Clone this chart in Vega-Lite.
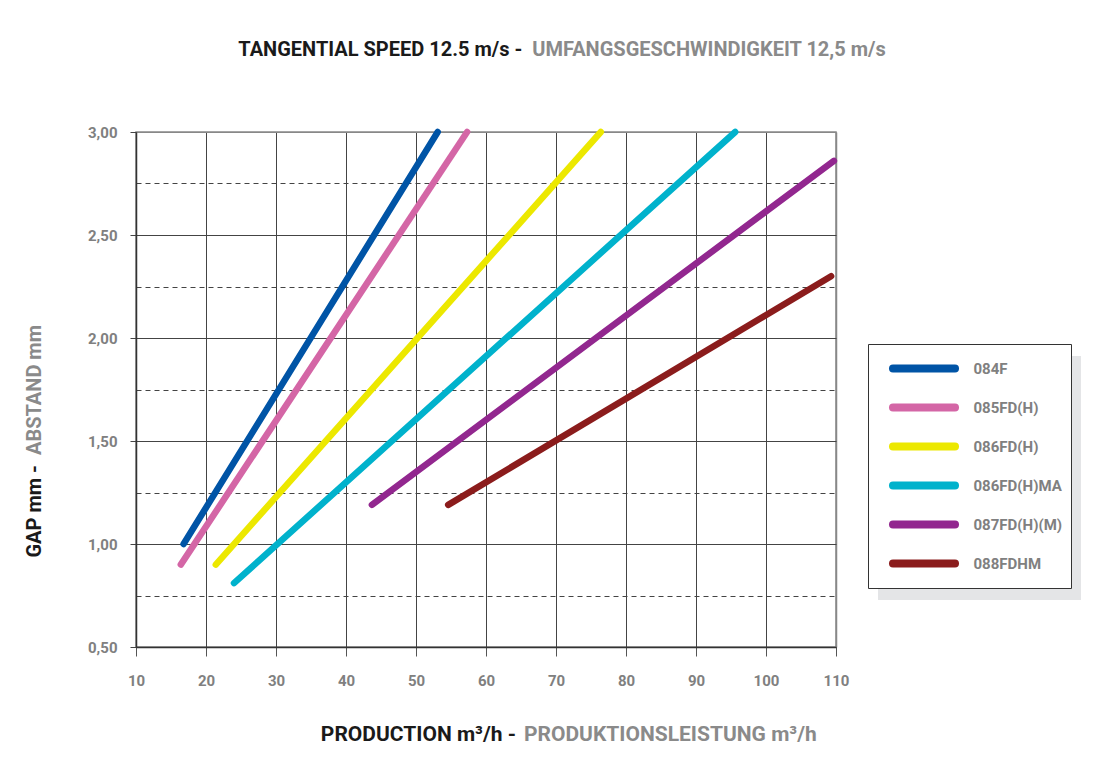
{
  "$schema": "https://vega.github.io/schema/vega-lite/v6.json",
  "width": 700,
  "height": 515,
  "autosize": {"type": "none"},
  "padding": {"left": 136, "top": 132, "right": 282, "bottom": 117},
  "background": "white",
  "config": {
    "font": "Roboto",
    "view": {"stroke": "#888888", "strokeWidth": 1.5}
  },
  "layer": [
    {
      "data": {"values": [{}]},
      "mark": {"type": "rect", "color": "#e4e5e7"},
      "encoding": {"x": {"datum": 116}, "x2": {"datum": 145}, "y": {"datum": 1.913}, "y2": {"datum": 0.728}}
    },
    {
      "data": {
        "values": [
          {"model": "084F", "production": 16.8, "gap": 1.0},
          {"model": "084F", "production": 53.1, "gap": 3.0},
          {"model": "085FD(H)", "production": 16.4, "gap": 0.9},
          {"model": "085FD(H)", "production": 57.3, "gap": 3.0},
          {"model": "086FD(H)", "production": 21.4, "gap": 0.9},
          {"model": "086FD(H)", "production": 76.4, "gap": 3.0},
          {"model": "086FD(H)MA", "production": 24.0, "gap": 0.81},
          {"model": "086FD(H)MA", "production": 95.6, "gap": 3.0},
          {"model": "087FD(H)(M)", "production": 43.7, "gap": 1.19},
          {"model": "087FD(H)(M)", "production": 109.7, "gap": 2.86},
          {"model": "088FDHM", "production": 54.6, "gap": 1.19},
          {"model": "088FDHM", "production": 109.3, "gap": 2.3}
        ]
      },
      "mark": {"type": "line", "strokeWidth": 6.5, "strokeCap": "round"},
      "encoding": {
        "x": {
          "field": "production", "type": "quantitative",
          "scale": {"domain": [10, 110], "nice": false, "zero": false},
          "axis": {
            "title": null,
            "values": [10, 20, 30, 40, 50, 60, 70, 80, 90, 100, 110],
            "grid": true,
            "gridColor": {"condition": {"test": "datum.value == 110", "value": "#888888"}, "value": "#444444"},
            "gridWidth": {"condition": {"test": "datum.value == 110", "value": 1.5}, "value": 1},
            "domainColor": "#333333",
            "domainWidth": 1.5,
            "tickColor": "#555555",
            "tickSize": 9,
            "labelFontSize": 15,
            "labelFontWeight": "bold",
            "labelColor": "#808080",
            "labelPadding": 17,
            "labelFlush": false
          }
        },
        "y": {
          "field": "gap", "type": "quantitative",
          "scale": {"domain": [0.5, 3.0], "nice": false, "zero": false},
          "axis": {
            "title": null,
            "values": [0.5, 0.75, 1.0, 1.25, 1.5, 1.75, 2.0, 2.25, 2.5, 2.75, 3.0],
            "grid": true,
            "gridColor": {"condition": {"test": "datum.value == 3", "value": "#888888"}, "value": "#444444"},
            "gridDash": {"condition": {"test": "datum.value % 0.5 != 0", "value": [5, 4]}, "value": []},
            "gridWidth": 1,
            "domainColor": "#333333",
            "domainWidth": 1.5,
            "tickColor": "#444444",
            "tickSize": 6,
            "tickOpacity": {"condition": {"test": "datum.value % 0.5 != 0", "value": 0}, "value": 1},
            "labelExpr": "datum.value % 0.5 == 0 ? replace(format(datum.value, '.2f'), '.', ',') : ''",
            "labelFontSize": 15,
            "labelFontWeight": "bold",
            "labelColor": "#808080",
            "labelPadding": 13,
            "labelFlush": false
          }
        },
        "color": {
          "field": "model", "type": "nominal",
          "scale": {
            "domain": ["084F", "085FD(H)", "086FD(H)", "086FD(H)MA", "087FD(H)(M)", "088FDHM"],
            "range": ["#0054a6", "#d466a6", "#ece800", "#00b2cc", "#92278f", "#8b1c1c"]
          },
          "legend": {
            "title": null,
            "orient": "none",
            "legendX": 732,
            "legendY": 212,
            "symbolType": "M-2.5,0H2.5",
            "symbolSize": 615,
            "symbolStrokeWidth": 8,
            "symbolOffset": 31.5,
            "rowPadding": 6,
            "padding": 8,
            "labelOffset": 33,
            "labelFontSize": 15,
            "labelFontWeight": "bold",
            "labelColor": "#808080",
            "strokeColor": "#333333",
            "fillColor": "white",
            "encode": {"symbols": {"update": {"strokeCap": {"value": "round"}}}}
          }
        }
      }
    },
    {
      "data": {"values": [{}]},
      "mark": {"type": "text", "text": "TANGENTIAL SPEED 12.5 m/s -", "align": "right", "baseline": "middle", "fontSize": 20, "fontWeight": "bold", "color": "#1a1a1a", "dx": -5},
      "encoding": {"x": {"datum": 65.9}, "y": {"datum": 3.4}}
    },
    {
      "data": {"values": [{}]},
      "mark": {"type": "text", "text": "UMFANGSGESCHWINDIGKEIT 12,5 m/s", "align": "left", "baseline": "middle", "fontSize": 20, "fontWeight": "bold", "color": "#8a8a8a", "dx": 5},
      "encoding": {"x": {"datum": 65.9}, "y": {"datum": 3.4}}
    },
    {
      "data": {"values": [{}]},
      "mark": {"type": "text", "text": "PRODUCTION m³/h -", "align": "right", "baseline": "middle", "fontSize": 21, "fontWeight": "bold", "color": "#1a1a1a", "dx": -4},
      "encoding": {"x": {"datum": 64.857}, "y": {"datum": 0.073}}
    },
    {
      "data": {"values": [{}]},
      "mark": {"type": "text", "text": "PRODUKTIONSLEISTUNG m³/h", "align": "left", "baseline": "middle", "fontSize": 21, "fontWeight": "bold", "color": "#8a8a8a", "dx": 4},
      "encoding": {"x": {"datum": 64.857}, "y": {"datum": 0.073}}
    },
    {
      "data": {"values": [{}]},
      "mark": {"type": "text", "text": "GAP mm -", "align": "right", "baseline": "middle", "angle": 270, "fontSize": 20, "fontWeight": "bold", "color": "#1a1a1a"},
      "encoding": {"x": {"datum": -4.43}, "y": {"datum": 1.383}}
    },
    {
      "data": {"values": [{}]},
      "mark": {"type": "text", "text": "ABSTAND mm", "align": "left", "baseline": "middle", "angle": 270, "fontSize": 20, "fontWeight": "bold", "color": "#8a8a8a"},
      "encoding": {"x": {"datum": -4.43}, "y": {"datum": 1.432}}
    }
  ]
}
